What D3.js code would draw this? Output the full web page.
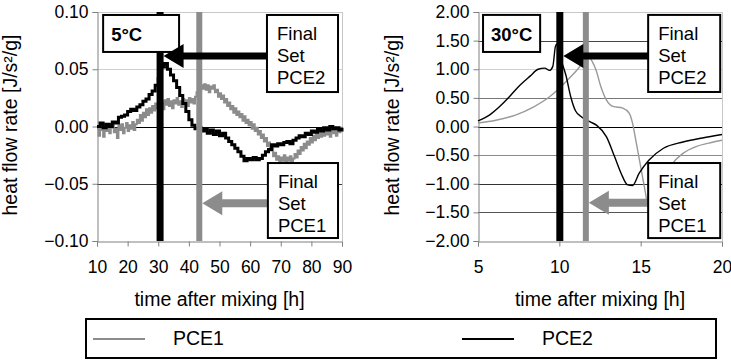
<!DOCTYPE html>
<html>
<head>
<meta charset="utf-8">
<script src="https://cdn.jsdelivr.net/npm/d3@7"></script>
<style>
  body { margin: 0; background: #fff; }
  svg text { font-family: Arial, "Liberation Sans", sans-serif; fill: #000; }
</style>
</head>
<body>
<svg id="chart" width="731" height="363"></svg>
<script>
// ---- 5 °C panel: heat flow rate, sampled every 0.5 h (PCE1) and 1 h (PCE2) ----
const coldTimeFine = d3.range(10, 90.001, 0.5);
const coldPce1 = [
  -0.002, -0.008, 0.001, -0.003, -0.009, 0.000, -0.004, 0.002, -0.006, -0.001,
  0.003, -0.005, -0.002, -0.010, 0.001, -0.003, 0.002, -0.006, -0.001, 0.003,
  -0.004, 0.001, -0.002, 0.004, -0.003, 0.002, 0.006, 0.003, 0.010, 0.005,
  0.012, 0.008, 0.015, 0.010, 0.016, 0.012, 0.018, 0.014, 0.020, 0.016,
  0.022, 0.017, 0.021, 0.015, 0.023, 0.019, 0.024, 0.018, 0.022, 0.016,
  0.023, 0.020, 0.025, 0.019, 0.022, 0.017, 0.024, 0.020, 0.023, 0.018,
  0.025, 0.021, 0.024, 0.020, 0.026, 0.030, 0.034, 0.031, 0.036, 0.033,
  0.037, 0.032, 0.036, 0.030, 0.035, 0.033, 0.036, 0.030, 0.032, 0.026,
  0.029, 0.024, 0.027, 0.021, 0.024, 0.018, 0.021, 0.015, 0.018, 0.012,
  0.016, 0.010, 0.013, 0.008, 0.011, 0.005, 0.009, 0.003, 0.006, 0.001,
  0.004, -0.002, 0.002, -0.004, -0.001, -0.007, -0.004, -0.010, -0.007, -0.013,
  -0.010, -0.017, -0.014, -0.021, -0.018, -0.026, -0.023, -0.029, -0.026, -0.031,
  -0.027, -0.030, -0.025, -0.031, -0.027, -0.030, -0.026, -0.031, -0.028, -0.024,
  -0.027, -0.021, -0.024, -0.018, -0.021, -0.015, -0.019, -0.013, -0.016, -0.010,
  -0.014, -0.008, -0.012, -0.006, -0.010, -0.004, -0.009, -0.003, -0.008, -0.002,
  -0.007, -0.002, -0.009, -0.003, -0.006, -0.001, -0.008, -0.002, -0.005, -0.001,
  -0.004
];
const coldTimeCoarse = d3.range(10, 90.001, 1);
const coldPce2 = [
  0.000, 0.003, -0.001, 0.002, 0.000, 0.004, 0.003, 0.008, 0.009, 0.010,
  0.013, 0.015, 0.014, 0.017, 0.019, 0.022, 0.024, 0.028, 0.031, 0.036,
  0.042, 0.052, 0.055, 0.050, 0.045, 0.040, 0.034, 0.027, 0.020, 0.013,
  0.006, 0.001, -0.002, -0.001, -0.004, -0.002, -0.006, -0.003, -0.007, -0.004,
  -0.008, -0.006, -0.010, -0.013, -0.016, -0.019, -0.022, -0.026, -0.030, -0.028,
  -0.029, -0.027, -0.029, -0.028, -0.025, -0.022, -0.020, -0.016, -0.017, -0.015,
  -0.016, -0.014, -0.013, -0.015, -0.012, -0.010, -0.008, -0.009, -0.006, -0.007,
  -0.004, -0.005, -0.002, -0.004, -0.001, -0.003, 0.000, -0.002, -0.001, -0.003,
  -0.001
];
const coldXTicks = [10, 20, 30, 40, 50, 60, 70, 80, 90];
const coldYTicks = [-0.10, -0.05, 0.00, 0.05, 0.10];
const coldFinalSet = { PCE2: 30.6, PCE1: 43.4 };

// ---- 30 °C panel ----
const warmTimePce2 = [5.0, 5.7, 6.3, 6.9, 7.5, 8.2, 8.7, 9.1, 9.4, 9.6, 9.76, 9.85, 10.0, 10.2, 10.4,
  10.7, 11.0, 11.4, 11.9, 12.3, 12.9, 13.4, 13.8, 14.2, 14.5, 14.9, 15.5, 16.4, 17.6, 18.8, 20.0];
const warmPce2 = [0.10, 0.20, 0.34, 0.51, 0.70, 0.88, 1.00, 1.02, 0.98, 1.05, 1.40, 1.44, 1.25, 1.08, 0.90,
  0.52, 0.27, 0.16, 0.08, 0.02, -0.18, -0.53, -0.82, -1.02, -1.03, -0.82, -0.59, -0.38, -0.27, -0.20, -0.14];
const warmTimePce1 = [5.0, 6.1, 7.3, 8.4, 9.4, 10.0, 10.6, 11.1, 11.35, 11.6, 11.85, 12.05, 12.25, 12.55, 12.9,
  13.3, 13.9, 14.3, 14.5, 14.7, 15.0, 15.3, 15.45, 15.7, 16.0, 16.4, 16.9, 17.6, 18.4, 19.2, 20.0];
const warmPce1 = [0.06, 0.11, 0.20, 0.34, 0.52, 0.67, 0.84, 0.99, 1.08, 1.16, 1.20, 1.12, 0.99, 0.70, 0.46,
  0.35, 0.32, 0.23, 0.06, -0.24, -0.70, -1.17, -1.40, -1.50, -1.30, -0.95, -0.67, -0.47, -0.35, -0.29, -0.24];
const warmXTicks = [5, 10, 15, 20];
const warmYTicks = [-2.0, -1.5, -1.0, -0.5, 0.0, 0.5, 1.0, 1.5, 2.0];
const warmFinalSet = { PCE2: 10.03, PCE1: 11.63 };

const seriesNames = ["PCE1", "PCE2"];
const xTitle = "time after mixing [h]";
const yTitle = "heat flow rate [J/s²/g]";

// ---- styling ----
const GRAY = "#8c8c8c";
const BLACK = "#000";
const tickFont = 17.5, titleFont = 19.5, boxFont = 18.5;

const svg = d3.select("#chart");

function zip(xs, ys) {
  const n = Math.min(xs.length, ys.length);
  return d3.range(n).map(i => [xs[i], ys[i]]);
}

function drawPanel(cfg) {
  const x = d3.scaleLinear().domain(cfg.xDomain).range(cfg.xRange);
  const y = d3.scaleLinear().domain(cfg.yDomain).range([241, 12]);
  const g = svg.append("g");
  const [x0, x1] = cfg.xRange;

  // horizontal gridlines
  g.selectAll("line.grid").data(cfg.yTicks.slice(1)).join("line")
    .attr("x1", x0).attr("x2", x1)
    .attr("y1", d => Math.round(y(d)) + 0.5).attr("y2", d => Math.round(y(d)) + 0.5)
    .attr("stroke", (d, i) => cfg.gridColors[i])
    .attr("stroke-width", 1);
  // right frame edge
  g.append("line").attr("x1", x1 + 0.5).attr("x2", x1 + 0.5).attr("y1", y(cfg.yDomain[1])).attr("y2", y(cfg.yDomain[0]))
    .attr("stroke", "#c8c8c8");

  // axes
  const ax = g.append("g").attr("transform", `translate(0,${Math.round(y(cfg.yDomain[0])) + 0.5})`)
    .call(d3.axisBottom(x).tickValues(cfg.xTicks).tickSize(5).tickPadding(14).tickFormat(d3.format("d")));
  const ay = g.append("g").attr("transform", `translate(${Math.round(x0) + 0.5},0)`)
    .call(d3.axisLeft(y).tickValues(cfg.yTicks).tickSize(5).tickPadding(4).tickFormat(d3.format(".2f")));
  [ax, ay].forEach(a => {
    a.select(".domain").attr("stroke", "#808080");
    a.selectAll(".tick line").attr("stroke", "#808080");
    a.selectAll("text").attr("font-size", tickFont).attr("font-family", "Arial, 'Liberation Sans', sans-serif").attr("fill", "#000");
  });

  // data lines
  cfg.series.forEach(s => {
    g.append("path").datum(s.points)
      .attr("fill", "none").attr("stroke", s.color).attr("stroke-width", s.width)
      .attr("stroke-linejoin", "miter")
      .attr("d", d3.line().x(d => x(d[0])).y(d => y(d[1])).curve(s.curve));
  });

  // "final set" markers
  const bars = [{ t: cfg.finalSet.PCE2, c: BLACK, w: 7 }, { t: cfg.finalSet.PCE1, c: GRAY, w: 6 }];
  g.selectAll("rect.bar").data(bars).join("rect")
    .attr("x", d => x(d.t) - d.w / 2).attr("width", d => d.w)
    .attr("y", y(cfg.yDomain[1])).attr("height", y(cfg.yDomain[0]) - y(cfg.yDomain[1]))
    .attr("fill", d => d.c);

  // temperature label
  const tb = cfg.tempBox;
  const tx0 = x(tb.x[0]), tx1 = x(tb.x[1]), ty0 = y(tb.y[0]), ty1 = y(tb.y[1]);
  g.append("rect").attr("x", tx0).attr("y", ty0).attr("width", tx1 - tx0).attr("height", ty1 - ty0)
    .attr("fill", "#fff").attr("stroke", "#000").attr("stroke-width", 2);
  g.append("text").attr("x", tx0 + 8).attr("y", ty0 + 26).attr("font-size", boxFont).attr("font-weight", "bold")
    .text(cfg.tempLabel);

  // arrows and "Final Set" boxes
  cfg.arrows.forEach(a => {
    const bx0 = x(a.box.x[0]), bx1 = x(a.box.x[1]), by0 = y(a.box.y[0]), by1 = y(a.box.y[1]);
    const tip = x(a.t) + a.half;
    const ay0 = y(a.y);
    const headL = 20, headH = 12, shaft = a.shaft;
    g.append("path")
      .attr("d", `M${tip},${ay0} L${tip + headL},${ay0 - headH} L${tip + headL},${ay0 - shaft / 2}
                  L${bx0},${ay0 - shaft / 2} L${bx0},${ay0 + shaft / 2} L${tip + headL},${ay0 + shaft / 2}
                  L${tip + headL},${ay0 + headH} Z`)
      .attr("fill", a.color);
    g.append("rect").attr("x", bx0).attr("y", by0).attr("width", bx1 - bx0).attr("height", by1 - by0)
      .attr("fill", "#fff").attr("stroke", "#000").attr("stroke-width", 2);
    ["Final", "Set", a.name].forEach((line, i) => {
      g.append("text").attr("x", bx0 + 10).attr("y", by0 + 25 + i * 22)
        .attr("font-size", boxFont).text(line);
    });
  });

  // axis titles
  g.append("text").attr("x", (x0 + x1) / 2).attr("y", 306).attr("text-anchor", "middle")
    .attr("font-size", titleFont).text(xTitle);
  g.append("text").attr("transform", `translate(${cfg.yTitleX},125) rotate(-90)`)
    .attr("text-anchor", "middle").attr("font-size", titleFont).text(yTitle);
}

drawPanel({
  xDomain: [10, 90], xRange: [97, 342], yDomain: [-0.10, 0.10],
  xTicks: coldXTicks, yTicks: coldYTicks,
  gridColors: ["#3a3a3a", "#000", "#cfcfcf", "#c8c8c8"],
  series: [
    { points: zip(coldTimeFine, coldPce1), color: GRAY, width: 2, curve: d3.curveStepAfter },
    { points: zip(coldTimeCoarse, coldPce2), color: BLACK, width: 3, curve: d3.curveStepAfter }
  ],
  finalSet: coldFinalSet,
  tempLabel: "5°C",
  tempBox: { x: [12, 36.8], y: [0.0974, 0.0651] },
  arrows: [
    { name: "PCE2", t: coldFinalSet.PCE2, half: 3.5, y: 0.0615, color: BLACK, shaft: 7,
      box: { x: [65.5, 88.7], y: [0.0974, 0.0301] } },
    { name: "PCE1", t: coldFinalSet.PCE1, half: 3, y: -0.067, color: GRAY, shaft: 8,
      box: { x: [65.8, 88.7], y: [-0.0319, -0.0974] } }
  ],
  yTitleX: 17
});

drawPanel({
  xDomain: [5, 20], xRange: [478, 722], yDomain: [-2.0, 2.0],
  xTicks: warmXTicks, yTicks: warmYTicks,
  gridColors: ["#555", "#333", "#8a8a8a", "#000", "#777", "#cfcfcf", "#444", "#c8c8c8"],
  series: [
    { points: zip(warmTimePce1, warmPce1), color: "#999", width: 1.4, curve: d3.curveMonotoneX },
    { points: zip(warmTimePce2, warmPce2), color: BLACK, width: 1.4, curve: d3.curveMonotoneX }
  ],
  finalSet: warmFinalSet,
  tempLabel: "30°C",
  tempBox: { x: [5.31, 8.82], y: [1.949, 1.302] },
  arrows: [
    { name: "PCE2", t: warmFinalSet.PCE2, half: 3.5, y: 1.23, color: BLACK, shaft: 7,
      box: { x: [15.46, 19.89], y: [1.949, 0.603] } },
    { name: "PCE1", t: warmFinalSet.PCE1, half: 3, y: -1.33, color: GRAY, shaft: 8,
      box: { x: [15.46, 19.89], y: [-0.638, -1.949] } }
  ],
  yTitleX: 399
});

// legend
const legend = svg.append("g");
legend.append("rect").attr("x", 86).attr("y", 319).attr("width", 630).attr("height", 39)
  .attr("fill", "#fff").attr("stroke", "#000").attr("stroke-width", 2);
const legendItems = [{ name: seriesNames[0], color: GRAY, x: 93 }, { name: seriesNames[1], color: BLACK, x: 462 }];
legendItems.forEach(it => {
  legend.append("line").attr("x1", it.x).attr("x2", it.x + 52).attr("y1", 339).attr("y2", 339)
    .attr("stroke", it.color).attr("stroke-width", 2);
  legend.append("text").attr("x", it.x + 80).attr("y", 345).attr("font-size", titleFont).text(it.name);
});
</script>
</body>
</html>
